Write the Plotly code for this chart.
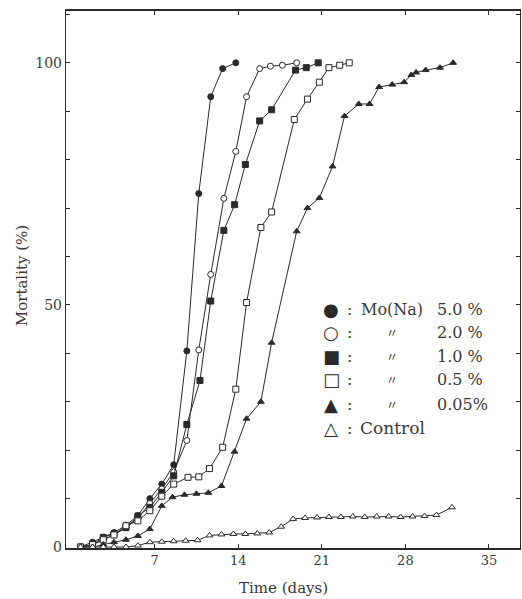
import plotly.graph_objects as go

# Days after treatment and cumulative mortality (%) for each group
days_mo50 = [0.8, 1.8, 2.7, 3.6, 4.6, 5.6, 6.6, 7.6, 8.6, 9.7, 10.7, 11.7, 12.7, 13.8]
mort_mo50 = [0, 1, 2, 3, 4.5, 6.5, 10, 13, 17, 40.5, 73, 93, 98.8, 100]

days_mo20 = [0.8, 1.8, 2.7, 3.6, 4.6, 5.6, 6.6, 7.6, 8.6, 9.7, 10.7, 11.7, 12.8, 13.8,
             14.7, 15.8, 16.7, 17.7, 18.9]
mort_mo20 = [0, 0.5, 1.5, 2.5, 4, 6, 9, 12, 15.5, 22, 40.7, 56.3, 72, 81.7,
             93, 98.8, 99.3, 99.5, 100]

days_mo10 = [0.8, 1.8, 2.7, 3.6, 4.6, 5.6, 6.6, 7.6, 8.6, 9.7, 10.8, 11.7, 12.8, 13.7,
             14.6, 15.8, 16.8, 18.8, 19.7, 20.7]
mort_mo10 = [0, 0.5, 2, 2.7, 4, 6.4, 8.2, 11.3, 14.7, 25.3, 34.4, 50.8, 65.4, 70.7,
             79, 88, 90.3, 98.5, 99, 100]

days_mo05 = [0.8, 1.8, 2.7, 3.6, 4.6, 5.6, 6.6, 7.6, 8.6, 9.8, 10.7, 11.6, 12.7, 13.8,
             14.7, 15.9, 16.8, 18.7, 19.8, 20.8, 21.6, 22.5, 23.3]
mort_mo05 = [0, 0.5, 1.5, 2.5, 4.4, 5.4, 7.5, 10.5, 13, 14.4, 14.5, 16.2, 20.6, 32.6,
             50.5, 66, 69.2, 88.3, 92.5, 96, 99, 99.5, 100]

days_mo005 = [0.8, 1.8, 2.7, 3.6, 4.6, 5.6, 6.6, 7.6, 8.5, 9.5, 10.5, 11.5, 12.6, 13.7,
              14.7, 15.9, 16.8, 18.9, 19.8, 20.8, 21.9, 22.9, 24.1, 25.0, 25.8, 26.9,
              27.9, 28.5, 28.9, 29.7, 30.9, 32.0]
mort_mo005 = [0, 0, 0.5, 1, 1.5, 2.3, 3.7, 8.5, 10.3, 10.8, 11, 11.2, 12.6, 19.7,
              26.5, 30, 42.2, 65.2, 70, 72.1, 78.6, 89, 91.5, 91.5, 95, 95.5,
              96, 97.5, 98, 98.5, 99, 100]

days_ctrl = [0.8, 1.8, 2.7, 3.6, 4.6, 5.6, 6.6, 7.6, 8.6, 9.6, 10.6, 11.6, 12.6, 13.6,
             14.6, 15.6, 16.6, 17.6, 18.6, 19.6, 20.6, 21.6, 22.6, 23.6, 24.6, 25.6,
             26.6, 27.6, 28.6, 29.6, 30.6, 31.9]
mort_ctrl = [0, 0, 0, 0, 0, 0.3, 1, 1.1, 1.2, 1.3, 1.4, 2.4, 2.6, 2.7,
             2.7, 2.8, 3.0, 4.2, 5.8, 6.0, 6.1, 6.2, 6.2, 6.3, 6.2, 6.3,
             6.3, 6.2, 6.3, 6.4, 6.6, 8.2]

x_ticks = [7, 14, 21, 28, 35]
y_ticks = [0, 50, 100]

legend_symbols = ["●", "○", "■", "□", "▲", "△"]
legend_names = ["Mo(Na)", "〃", "〃", "〃", "〃"]
legend_values = ["5.0 %", "2.0 %", "1.0 %", "0.5 %", "0.05%"]
control_label = "Control"

INK = "#2a2a2a"
TEXT = "#3a3a3a"
series = [
    (days_mo50, mort_mo50, "circle", INK),
    (days_mo20, mort_mo20, "circle", "white"),
    (days_mo10, mort_mo10, "square", INK),
    (days_mo05, mort_mo05, "square", "white"),
    (days_mo005, mort_mo005, "triangle-up", INK),
    (days_ctrl, mort_ctrl, "triangle-up", "white"),
]

fig = go.Figure()
for xs, ys, sym, fill in series:
    fig.add_trace(go.Scatter(
        x=xs, y=ys, mode="lines+markers",
        line=dict(color=INK, width=1),
        marker=dict(symbol=sym, size=6, color=fill, line=dict(color=INK, width=1)),
        showlegend=False,
    ))

# Key drawn as text rows inside the plot area
row_y = [0.444, 0.401, 0.356, 0.313, 0.267, 0.223]
for i, sym in enumerate(legend_symbols):
    fig.add_annotation(x=0.584, y=row_y[i], xref="paper", yref="paper",
                       text=sym, showarrow=False, xanchor="center", yanchor="middle",
                       font=dict(family="DejaVu Sans", size=18, color=INK))
    fig.add_annotation(x=0.624, y=row_y[i], xref="paper", yref="paper",
                       text=":", showarrow=False, xanchor="center", yanchor="middle",
                       font=dict(family="DejaVu Serif", size=16, color=TEXT))
for i, name in enumerate(legend_names):
    fig.add_annotation(x=0.718, y=row_y[i], xref="paper", yref="paper",
                       text=name, showarrow=False, xanchor="center", yanchor="middle",
                       font=dict(family="DejaVu Serif" if i == 0 else "Noto Sans CJK JP",
                                 size=16 if i == 0 else 12, color=TEXT))
    fig.add_annotation(x=0.812, y=row_y[i], xref="paper", yref="paper",
                       text=legend_values[i], showarrow=False, xanchor="left", yanchor="middle",
                       font=dict(family="DejaVu Serif", size=16, color=TEXT))
fig.add_annotation(x=0.644, y=row_y[5], xref="paper", yref="paper",
                   text=control_label, showarrow=False, xanchor="left", yanchor="middle",
                   font=dict(family="DejaVu Serif", size=17, color=TEXT))

# Axis titles
fig.add_annotation(x=0.478, y=-0.075, xref="paper", yref="paper",
                   text="Time (days)", showarrow=False, xanchor="center", yanchor="middle",
                   font=dict(family="DejaVu Serif", size=15, color=TEXT))
fig.add_annotation(x=-0.097, y=0.508, xref="paper", yref="paper",
                   text="Mortality (%)", showarrow=False, textangle=-90,
                   xanchor="center", yanchor="middle",
                   font=dict(family="DejaVu Serif", size=15, color=TEXT))

fig.update_xaxes(
    range=[-0.42, 37.6], tickvals=x_ticks, ticktext=[str(v) for v in x_ticks],
    ticks="inside", ticklen=4, tickcolor=INK, showgrid=False, zeroline=False,
    showline=True, linecolor=INK, linewidth=1.6, mirror="ticks",
    tickfont=dict(family="DejaVu Serif", size=13, color=TEXT),
)
fig.update_yaxes(
    range=[-0.2, 110.7], tickvals=y_ticks, ticktext=[str(v) for v in y_ticks],
    ticks="inside", ticklen=4, tickcolor=INK, showgrid=False, zeroline=False,
    showline=True, linecolor=INK, linewidth=1.4, mirror="ticks",
    minor=dict(dtick=10, ticks="inside", ticklen=4, tickcolor=INK, showgrid=False),
    tickfont=dict(family="DejaVu Serif", size=14, color=TEXT),
)
fig.update_layout(
    width=522, height=599,
    margin=dict(l=66, r=2, t=11, b=51),
    paper_bgcolor="white", plot_bgcolor="white",
)

fig.write_html("out.html")
